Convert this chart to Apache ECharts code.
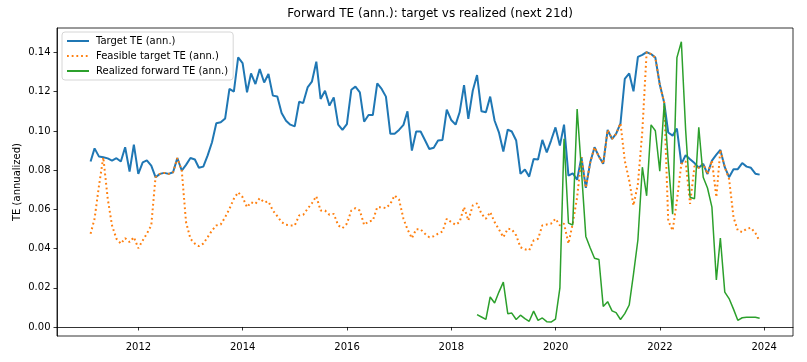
<!DOCTYPE html>
<html>
<head>
<meta charset="utf-8">
<script src="https://cdn.jsdelivr.net/npm/echarts@6/dist/echarts.min.js"></script>
<style>
html,body{margin:0;padding:0;background:#fff;}
#chart{width:807px;height:362px;}
</style>
</head>
<body>
<div id="chart"></div>
<script>
// Monthly observations (month-end), Jan 2011 .. Nov 2023
const firstYear = 2011, firstMonth = 1, nMonths = 155;
const realizedStartIndex = 89; // Jun 2018

const targetTE = [
0.0844,0.0911,0.0869,0.0866,0.0860,0.0849,0.0861,0.0844,0.0917,0.0793,
0.0930,0.0781,0.0840,0.0850,0.0823,0.0764,0.0781,0.0786,0.0781,0.0789,
0.0862,0.0798,0.0827,0.0862,0.0854,0.0812,0.0818,0.0874,0.0942,0.1039,
0.1044,0.1064,0.1214,0.1200,0.1375,0.1346,0.1197,0.1293,0.1239,0.1316,
0.1247,0.1290,0.1180,0.1176,0.1092,0.1052,0.1032,0.1023,0.1149,0.1142,
0.1222,0.1251,0.1353,0.1163,0.1205,0.1129,0.1171,0.1032,0.1005,0.1035,
0.1210,0.1226,0.1197,0.1047,0.1081,0.1081,0.1242,0.1214,0.1175,0.0985,
0.0985,0.1005,0.1031,0.1100,0.0900,0.0997,0.0997,0.0954,0.0908,0.0914,
0.0951,0.0954,0.1108,0.1056,0.1032,0.1095,0.1234,0.1061,0.1205,0.1285,
0.1100,0.1095,0.1175,0.1052,0.0993,0.0895,0.1007,0.0997,0.0951,0.0781,
0.0803,0.0767,0.0857,0.0854,0.0954,0.0891,0.0951,0.1018,0.0925,0.1032,
0.0772,0.0784,0.0751,0.0866,0.0710,0.0840,0.0917,0.0869,0.0832,0.1005,
0.0959,0.0985,0.1039,0.1265,0.1293,0.1202,0.1378,0.1388,0.1402,0.1392,
0.1374,0.1237,0.1144,0.0992,0.0976,0.1012,0.0832,0.0876,0.0855,0.0836,
0.0812,0.0832,0.0780,0.0849,0.0879,0.0903,0.0815,0.0764,0.0805,0.0805,
0.0836,0.0818,0.0812,0.0782,0.0777
];

const feasibleTE = [
0.0476,0.0552,0.0721,0.0866,0.0654,0.0518,0.0450,0.0425,0.0453,0.0433,
0.0458,0.0402,0.0441,0.0476,0.0518,0.0764,0.0781,0.0786,0.0781,0.0789,
0.0862,0.0798,0.0535,0.0450,0.0425,0.0412,0.0425,0.0458,0.0492,0.0518,
0.0523,0.0560,0.0603,0.0654,0.0687,0.0662,0.0611,0.0636,0.0628,0.0657,
0.0636,0.0640,0.0594,0.0565,0.0535,0.0521,0.0518,0.0518,0.0569,0.0572,
0.0603,0.0631,0.0667,0.0594,0.0594,0.0572,0.0577,0.0518,0.0504,0.0527,
0.0594,0.0606,0.0594,0.0521,0.0538,0.0543,0.0611,0.0611,0.0606,0.0628,
0.0671,0.0650,0.0552,0.0498,0.0453,0.0498,0.0498,0.0476,0.0458,0.0463,
0.0476,0.0487,0.0552,0.0535,0.0521,0.0535,0.0611,0.0543,0.0620,0.0631,
0.0577,0.0552,0.0586,0.0535,0.0498,0.0458,0.0501,0.0498,0.0467,0.0407,
0.0396,0.0391,0.0441,0.0450,0.0518,0.0523,0.0527,0.0552,0.0518,0.0527,
0.0425,0.0527,0.0662,0.0866,0.0710,0.0840,0.0917,0.0869,0.0832,0.1005,
0.0959,0.0985,0.1039,0.0849,0.0747,0.0620,0.0730,0.1000,0.1402,0.1392,
0.1374,0.1237,0.1144,0.0543,0.0492,0.0645,0.0832,0.0845,0.0628,0.0820,
0.0812,0.0832,0.0780,0.0849,0.0662,0.0903,0.0815,0.0755,0.0560,0.0492,
0.0484,0.0501,0.0506,0.0479,0.0438
];

const realizedTE = [
0.0063,0.0051,0.0039,0.0153,0.0122,0.0178,0.0229,0.0068,0.0071,0.0038,
0.0060,0.0043,0.0029,0.0081,0.0034,0.0046,0.0027,0.0025,0.0040,0.0200,
0.0960,0.0530,0.0520,0.1112,0.0800,0.0462,0.0403,0.0351,0.0344,0.0105,
0.0129,0.0082,0.0073,0.0038,0.0068,0.0112,0.0270,0.0445,0.0815,0.0669,
0.1031,0.1001,0.0795,0.1140,0.0845,0.0575,0.1374,0.1455,0.1005,0.0662,
0.0654,0.1018,0.0764,0.0709,0.0611,0.0240,0.0454,0.0178,0.0145,0.0091,
0.0034,0.0047,0.0050,0.0050,0.0050,0.0045
];

const xTickYears = [2012, 2014, 2016, 2018, 2020, 2022, 2024];
const yTicks = [0.00, 0.02, 0.04, 0.06, 0.08, 0.10, 0.12, 0.14];

const titleText = 'Forward TE (ann.): target vs realized (next 21d)';
const yName = 'TE (annualized)';
const names = ['Target TE (ann.)', 'Feasible target TE (ann.)', 'Realized forward TE (ann.)'];

// month-end dates expressed as decimal years
function toYearFrac(t) {
  const y = new Date(t).getUTCFullYear();
  const a = Date.UTC(y, 0, 1), b = Date.UTC(y + 1, 0, 1);
  return y + (t - a) / (b - a);
}
const dates = [];
for (let i = 0; i < nMonths; i++) {
  dates.push(toYearFrac(Date.UTC(firstYear, firstMonth + i, 0)));
}
const pair = (vals, offset) => vals.map((v, k) => [dates[k + offset], v]);
const xMin = toYearFrac(Date.UTC(2010, 5, 10));
const xMax = toYearFrac(Date.UTC(2024, 6, 21));

const FONT = 'DejaVu Sans';
const chart = echarts.init(document.getElementById('chart'), null, {renderer: 'canvas'});
chart.setOption({
  animation: false,
  backgroundColor: '#ffffff',
  title: {
    text: titleText,
    left: 425, top: 3, textAlign: 'center',
    textStyle: {fontFamily: FONT, fontSize: 12, fontWeight: 'normal', color: '#000'}
  },
  grid: {left: 57, top: 28, width: 736, height: 308, show: true,
         borderColor: '#000', borderWidth: 0.8, backgroundColor: 'transparent'},
  legend: {
    orient: 'vertical', left: 62, top: 32,
    padding: [4, 5, 4, 4], itemGap: 5, itemWidth: 22, itemHeight: 11,
    borderColor: '#cccccc', borderWidth: 0.8, borderRadius: 3,
    backgroundColor: 'rgba(255,255,255,0.8)',
    itemStyle: {opacity: 0},
    textStyle: {fontFamily: FONT, fontSize: 10, color: '#000', padding: [0, 0, 0, 2]},
    data: names
  },
  xAxis: {
    type: 'value', min: xMin, max: xMax,
    splitLine: {show: false},
    axisLine: {show: true, lineStyle: {color: '#000', width: 0.8}},
    axisTick: {show: true, length: 3.5, lineStyle: {color: '#000', width: 0.8},
               customValues: xTickYears},
    axisLabel: {fontFamily: FONT, fontSize: 10, color: '#000', margin: 6.5,
                customValues: xTickYears, formatter: v => String(Math.round(v))}
  },
  yAxis: {
    type: 'value', min: -0.0046, max: 0.1525,
    name: yName, nameLocation: 'middle', nameGap: 35, nameMoveOverlap: false,
    nameTextStyle: {fontFamily: FONT, fontSize: 10, color: '#000'},
    splitLine: {show: false},
    axisLine: {show: true, lineStyle: {color: '#000', width: 0.8}},
    axisTick: {show: true, length: 3.5, lineStyle: {color: '#000', width: 0.8},
               customValues: yTicks},
    axisLabel: {fontFamily: FONT, fontSize: 10, color: '#000', margin: 6.5,
                customValues: yTicks, formatter: v => v.toFixed(2)}
  },
  series: [
    {name: names[0], type: 'line', data: pair(targetTE, 0), showSymbol: false, symbol: 'none',
     color: '#1f77b4', lineStyle: {color: '#1f77b4', width: 2}, z: 3},
    {name: names[1], type: 'line', data: pair(feasibleTE, 0), showSymbol: false, symbol: 'none',
     color: '#ff7f0e', lineStyle: {color: '#ff7f0e', width: 2, type: [1.8, 2.9], cap: 'butt'}, z: 4},
    {name: names[2], type: 'line', data: pair(realizedTE, realizedStartIndex), showSymbol: false, symbol: 'none',
     color: '#2ca02c', lineStyle: {color: '#2ca02c', width: 1.5}, z: 5}
  ]
});
</script>
</body>
</html>
